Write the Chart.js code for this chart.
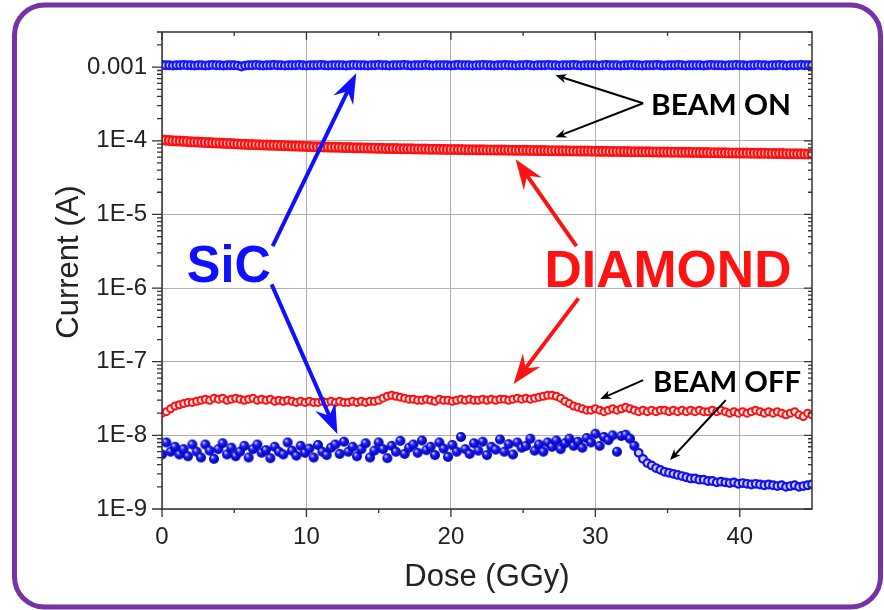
<!DOCTYPE html>
<html>
<head>
<meta charset="utf-8">
<script src="https://cdn.jsdelivr.net/npm/chart.js@4.4.1/dist/chart.umd.min.js"></script>
<style>
  html, body { margin: 0; padding: 0; background: #fff; }
  #wrap { width: 884px; height: 610px; }
</style>
</head>
<body>
<div id="wrap"><canvas id="doseChart" width="884" height="610"></canvas></div>
<script>
// sampling step of each run (GGy)
const ON_STEP = 0.25;
const OFF_STEP = 0.3;

// SiC, beam on (mA), 0 .. 45 GGy
const sicOnMilliAmp = [
  1.07,1.06,1.06,1.05,1.06,1.06,1.07,1.06,1.06,1.05,
  1.06,1.06,1.05,1.06,1.07,1.06,1.06,1.05,1.06,1.06,
  1.06,1.05,1.02,1.05,1.06,1.06,1.07,1.06,1.05,1.06,
  1.06,1.07,1.06,1.06,1.05,1.06,1.06,1.06,1.07,1.06,
  1.05,1.06,1.06,1.06,1.07,1.06,1.05,1.06,1.06,1.06,
  1.06,1.05,1.06,1.07,1.06,1.06,1.06,1.05,1.06,1.06,
  1.07,1.06,1.06,1.05,1.06,1.06,1.06,1.07,1.06,1.05,
  1.06,1.06,1.06,1.07,1.06,1.05,1.06,1.06,1.06,1.06,
  1.05,1.06,1.07,1.06,1.06,1.06,1.05,1.06,1.06,1.07,
  1.06,1.06,1.05,1.06,1.06,1.07,1.06,1.06,1.05,1.06,
  1.06,1.07,1.06,1.05,1.06,1.06,1.06,1.07,1.06,1.06,
  1.05,1.06,1.06,1.06,1.07,1.06,1.05,1.06,1.06,1.06,
  1.06,1.05,1.06,1.07,1.06,1.06,1.06,1.05,1.06,1.06,
  1.07,1.06,1.06,1.05,1.06,1.06,1.06,1.07,1.06,1.05,
  1.06,1.06,1.06,1.07,1.06,1.05,1.06,1.06,1.06,1.06,
  1.05,1.06,1.07,1.06,1.06,1.06,1.05,1.06,1.06,1.07,
  1.06,1.06,1.05,1.06,1.06,1.07,1.06,1.06,1.05,1.06,
  1.06,1.07,1.06,1.05,1.06,1.06,1.06,1.07,1.06,1.06,
  1.06
];

// diamond, beam on (x1e-5 A), 0 .. 45 GGy
const diamondOnE5 = [
  10.3,10.2,10.1,10.0,9.95,9.9,9.85,9.8,
  9.7,9.65,9.6,9.55,9.5,9.45,9.4,9.35,
  9.3,9.25,9.2,9.15,9.1,9.05,9.0,8.95,
  8.9,8.87,8.84,8.8,8.77,8.74,8.7,8.67,
  8.64,8.6,8.57,8.54,8.5,8.47,8.44,8.41,
  8.38,8.35,8.32,8.3,8.27,8.25,8.22,8.2,
  8.18,8.15,8.13,8.1,8.08,8.06,8.04,8.02,
  8.0,7.98,7.96,7.94,7.92,7.9,7.88,7.86,
  7.85,7.83,7.82,7.8,7.79,7.77,7.76,7.74,
  7.73,7.72,7.7,7.69,7.68,7.66,7.65,7.64,
  7.63,7.62,7.6,7.59,7.58,7.57,7.56,7.55,
  7.54,7.53,7.52,7.51,7.5,7.49,7.48,7.47,
  7.46,7.45,7.44,7.43,7.42,7.41,7.4,7.39,
  7.38,7.37,7.36,7.35,7.34,7.33,7.32,7.31,
  7.3,7.29,7.28,7.27,7.26,7.25,7.24,7.23,
  7.22,7.21,7.2,7.19,7.18,7.17,7.16,7.15,
  7.14,7.13,7.12,7.11,7.1,7.09,7.08,7.07,
  7.06,7.05,7.04,7.03,7.02,7.01,7.0,6.99,
  6.98,6.97,6.96,6.95,6.94,6.93,6.92,6.91,
  6.9,6.89,6.88,6.87,6.86,6.85,6.84,6.83,
  6.82,6.81,6.8,6.79,6.78,6.77,6.76,6.75,
  6.74,6.73,6.72,6.71,6.7,6.69,6.68,6.67,
  6.66,6.65,6.64,6.63,6.62
];

// diamond, beam off (x1e-8 A), 0 .. 45 GGy
const diamondOffE8 = [
  2.0,2.1,2.3,2.5,2.6,2.7,2.8,2.8,2.9,3.0,
  3.1,3.0,3.2,3.1,3.2,3.0,3.1,3.2,3.1,3.0,
  3.1,3.2,3.0,3.1,3.0,3.1,2.9,3.0,2.9,3.0,
  2.9,2.8,2.9,2.8,2.9,2.8,2.8,2.9,2.8,2.9,
  2.8,2.9,2.8,2.8,2.9,2.8,2.9,2.8,2.9,2.9,
  3.0,3.2,3.4,3.5,3.4,3.3,3.2,3.1,3.1,3.0,
  3.0,3.1,3.0,2.9,3.1,3.0,3.0,2.9,3.0,3.1,
  3.0,3.1,3.0,3.0,3.1,3.0,3.1,3.0,3.1,3.1,
  3.0,3.1,3.2,3.1,3.2,3.1,3.2,3.3,3.4,3.5,
  3.5,3.4,3.2,2.9,2.7,2.5,2.4,2.3,2.2,2.2,
  2.3,2.2,2.1,2.2,2.3,2.2,2.3,2.4,2.3,2.2,
  2.1,2.2,2.1,2.2,2.1,2.2,2.2,2.1,2.2,2.1,
  2.2,2.1,2.2,2.1,2.2,2.1,2.1,2.2,2.1,2.2,
  2.1,2.0,2.1,2.0,2.1,2.0,2.1,2.2,2.1,2.0,
  2.1,2.0,2.1,2.0,1.9,2.0,2.1,1.9,1.8,2.0,
  1.9
];

// SiC, beam off (x1e-9 A), 0 .. 45 GGy
const sicOffE9 = [
  5.5,8.0,6.0,7.0,5.5,6.5,5.2,7.5,6.0,5.0,
  7.5,6.2,4.8,6.5,7.8,5.5,6.8,5.2,6.0,7.2,
  5.0,6.5,7.5,5.8,6.3,4.9,7.0,6.0,5.5,8.0,
  6.2,5.3,7.2,5.8,6.6,5.0,7.4,6.0,5.4,6.8,
  7.5,5.6,8.2,6.0,7.0,5.2,6.5,7.8,5.0,6.2,
  8.0,6.5,4.9,7.2,6.0,8.4,5.6,6.8,7.5,5.8,
  8.5,6.3,7.0,5.4,8.0,6.6,5.1,7.4,6.0,9.5,
  6.5,5.6,7.8,6.2,8.2,5.4,7.0,6.4,8.8,6.0,
  7.6,5.5,8.0,6.8,7.2,9.0,6.2,7.5,6.0,8.0,
  7.0,8.5,6.5,7.8,9.0,7.2,8.2,6.8,9.2,8.0,
  10.5,7.2,9.5,8.6,10.0,6.0,9.8,10.2,9.0,7.2,
  5.8,4.8,4.2,3.9,3.6,3.4,3.2,3.1,3.0,2.9,
  2.8,2.7,2.6,2.6,2.5,2.5,2.4,2.4,2.3,2.35,
  2.3,2.25,2.3,2.2,2.25,2.2,2.15,2.2,2.15,2.1,
  2.15,2.1,2.05,2.1,2.0,2.05,2.1,2.0,2.05,2.1,
  2.15
];

// axes
const xMajorTicks = [0, 10, 20, 30, 40];
const xMinorTicks = [5, 15, 25, 35];
const yDecades = [-9, -8, -7, -6, -5, -4, -3];
const yDecadeLabels = ["1E-9", "1E-8", "1E-7", "1E-6", "1E-5", "1E-4", "0.001"];

const toPoints = (arr, step, unit) => arr.map((v, i) => ({ x: i * step, y: v * unit }));

const isDecade = (v) => {
  const e = Math.log10(v);
  return Math.abs(e - Math.round(e)) < 1e-6;
};

// shaded ball marker used for the SiC beam-off scatter
function makeBall(r) {
  const c = document.createElement("canvas");
  const s = Math.ceil(r * 2 + 2);
  c.width = c.height = s;
  const g = c.getContext("2d");
  const m = s / 2;
  const grad = g.createRadialGradient(m - r * 0.35, m - r * 0.4, r * 0.1, m, m, r);
  grad.addColorStop(0, "#c8c8ff");
  grad.addColorStop(0.35, "#1c1cff");
  grad.addColorStop(1, "#0000a8");
  g.fillStyle = grad;
  g.beginPath();
  g.arc(m, m, r, 0, Math.PI * 2);
  g.fill();
  return c;
}
const ball = makeBall(5);

// arrows and labels, placed in data units: [dose, log10(current)]
const bigArrows = [
  { from: [7.66, -5.43], to: [13.45, -3.084], color: "#1010ff" },
  { from: [7.59, -5.95], to: [12.14, -7.982], color: "#1010ff" },
  { from: [28.69, -5.43], to: [24.48, -4.251], color: "#ff1212" },
  { from: [28.83, -6.14], to: [24.34, -7.304], color: "#ff1212" },
];
const thinArrows = [
  { from: [33.31, -3.491], to: [27.24, -3.111] },
  { from: [33.31, -3.491], to: [27.24, -3.953] },
  { from: [33.31, -7.25], to: [30.34, -7.507] },
  { from: [39.03, -7.521], to: [35.17, -8.335] },
];
const labels = [
  { text: "SiC", at: [1.72, -5.92], font: "bold 52px 'Liberation Sans', Arial", color: "#1010ff", width: 84 },
  { text: "DIAMOND", at: [26.48, -5.988], font: "bold 52px 'Liberation Sans', Arial", color: "#ff1212", width: 247 },
  { text: "BEAM ON", at: [33.86, -3.654], font: "bold 28px Lato", color: "#000", width: 140 },
  { text: "BEAM OFF", at: [34.0, -7.412], font: "bold 28px Lato", color: "#000", width: 148 },
];

function drawBigArrow(ctx, x1, y1, x2, y2, color) {
  const a = Math.atan2(y2 - y1, x2 - x1);
  const c = Math.cos(a), s = Math.sin(a);
  const headLen = 30, headHalf = 11, notch = 20;
  ctx.strokeStyle = color;
  ctx.fillStyle = color;
  ctx.lineWidth = 4;
  ctx.beginPath();
  ctx.moveTo(x1, y1);
  ctx.lineTo(x2 - notch * c, y2 - notch * s);
  ctx.stroke();
  const bx = x2 - headLen * c, by = y2 - headLen * s;
  ctx.beginPath();
  ctx.moveTo(x2, y2);
  ctx.lineTo(bx - headHalf * s, by + headHalf * c);
  ctx.lineTo(x2 - notch * c, y2 - notch * s);
  ctx.lineTo(bx + headHalf * s, by - headHalf * c);
  ctx.closePath();
  ctx.fill();
}

function drawThinArrow(ctx, x1, y1, x2, y2) {
  const a = Math.atan2(y2 - y1, x2 - x1);
  const c = Math.cos(a), s = Math.sin(a);
  const headLen = 11, headHalf = 4.5;
  ctx.strokeStyle = "#000";
  ctx.fillStyle = "#000";
  ctx.lineWidth = 2;
  ctx.beginPath();
  ctx.moveTo(x1, y1);
  ctx.lineTo(x2 - headLen * 0.6 * c, y2 - headLen * 0.6 * s);
  ctx.stroke();
  const bx = x2 - headLen * c, by = y2 - headLen * s;
  ctx.beginPath();
  ctx.moveTo(x2, y2);
  ctx.lineTo(bx - headHalf * s, by + headHalf * c);
  ctx.lineTo(x2 - headLen * 0.7 * c, y2 - headLen * 0.7 * s);
  ctx.lineTo(bx + headHalf * s, by - headHalf * c);
  ctx.closePath();
  ctx.fill();
}

// text squeezed or stretched to a given width
function drawFitText(ctx, text, x, y, font, color, width) {
  ctx.save();
  ctx.font = font;
  ctx.fillStyle = color;
  ctx.textBaseline = "alphabetic";
  ctx.textAlign = "left";
  const w = ctx.measureText(text).width;
  ctx.translate(x, y);
  ctx.scale(width / w, 1);
  ctx.fillText(text, 0, 0);
  ctx.restore();
}

const framePlugin = {
  id: "frame",
  afterDatasetsDraw(chart) {
    const { ctx, chartArea: a, scales } = chart;
    const xs = scales.x, ys = scales.y;
    ctx.save();
    ctx.strokeStyle = "#333";
    ctx.lineWidth = 1.5;
    ctx.strokeRect(a.left, a.top, a.right - a.left, a.bottom - a.top);

    ctx.lineWidth = 1.3;
    ctx.beginPath();
    // bottom ticks point out, top ticks point in
    xMajorTicks.forEach((d) => {
      const px = xs.getPixelForValue(d);
      ctx.moveTo(px, a.bottom); ctx.lineTo(px, a.bottom + 8);
      ctx.moveTo(px, a.top); ctx.lineTo(px, a.top + 8);
    });
    xMinorTicks.forEach((d) => {
      const px = xs.getPixelForValue(d);
      ctx.moveTo(px, a.bottom); ctx.lineTo(px, a.bottom + 4);
      ctx.moveTo(px, a.top); ctx.lineTo(px, a.top + 4);
    });
    // left ticks point out, right ticks point in
    yDecades.forEach((e) => {
      for (let k = 1; k <= 9; k++) {
        const v = k * Math.pow(10, e);
        if (v > ys.max * 1.0001 || v < ys.min * 0.9999) continue;
        const py = ys.getPixelForValue(v);
        const len = k === 1 ? 10 : 5;
        ctx.moveTo(a.left - len, py); ctx.lineTo(a.left, py);
        ctx.moveTo(a.right, py); ctx.lineTo(a.right - (k === 1 ? 8 : 4), py);
      }
    });
    ctx.stroke();
    ctx.restore();
  },
  afterDraw(chart) {
    const { ctx, scales } = chart;
    const px = (p) => scales.x.getPixelForValue(p[0]);
    const py = (p) => scales.y.getPixelForValue(Math.pow(10, p[1]));
    ctx.save();
    ctx.lineCap = "butt";
    bigArrows.forEach((ar) => drawBigArrow(ctx, px(ar.from), py(ar.from), px(ar.to), py(ar.to), ar.color));
    thinArrows.forEach((ar) => drawThinArrow(ctx, px(ar.from), py(ar.from), px(ar.to), py(ar.to)));
    labels.forEach((l) => drawFitText(ctx, l.text, px(l.at), py(l.at), l.font, l.color, l.width));

    // axis titles
    ctx.fillStyle = "#222";
    ctx.font = "31px 'Liberation Sans', Arial";
    ctx.textAlign = "center";
    ctx.textBaseline = "middle";
    ctx.fillText("Dose (GGy)", 487, 577);
    ctx.translate(69, 262);
    ctx.rotate(-Math.PI / 2);
    ctx.fillText("Current (A)", 0, 0);
    ctx.restore();

    // purple rounded border
    ctx.save();
    ctx.strokeStyle = "#7533a3";
    ctx.lineWidth = 5;
    ctx.beginPath();
    ctx.roundRect(14.5, 5, 866, 602, 30);
    ctx.stroke();
    ctx.restore();
  },
};

new Chart(document.getElementById("doseChart"), {
  type: "scatter",
  data: {
    datasets: [
      {
        label: "SiC beam off",
        data: toPoints(sicOffE9, OFF_STEP, 1e-9),
        pointStyle: (c) => (c.raw && c.raw.x < 32.8 ? ball : "circle"),
        pointRadius: 3.8,
        borderColor: "#1010f0",
        backgroundColor: "#d0d0ff",
        borderWidth: 2.2,
      },
      {
        label: "Diamond beam off",
        data: toPoints(diamondOffE8, OFF_STEP, 1e-8),
        pointRadius: 3.5,
        borderColor: "#ff1010",
        backgroundColor: "#ffe8e8",
        borderWidth: 2,
      },
      {
        label: "Diamond beam on",
        data: toPoints(diamondOnE5, ON_STEP, 1e-5),
        pointRadius: 4.3,
        borderColor: "#ff1010",
        backgroundColor: "#ffc8c8",
        borderWidth: 2.4,
      },
      {
        label: "SiC beam on",
        data: toPoints(sicOnMilliAmp, ON_STEP, 1e-3),
        pointRadius: 3.8,
        borderColor: "#1515ff",
        backgroundColor: "#c8c8ff",
        borderWidth: 2.2,
      },
    ],
  },
  options: {
    responsive: false,
    animation: false,
    events: [],
    layout: { padding: { left: 0, top: 32, right: 72, bottom: 0 } },
    plugins: { legend: { display: false }, tooltip: { enabled: false } },
    scales: {
      x: {
        type: "linear",
        min: 0,
        max: 45,
        afterFit: (s) => { s.height = 101; },
        border: { display: false },
        grid: { color: "#b0b0b0", lineWidth: 1, drawTicks: false },
        ticks: {
          stepSize: 10,
          includeBounds: false,
          padding: 14,
          color: "#222",
          font: { family: "'Liberation Sans', Arial", size: 24 },
          maxRotation: 0,
        },
      },
      y: {
        type: "logarithmic",
        min: 1e-9,
        max: 3e-3,
        afterFit: (s) => { s.width = 162; },
        border: { display: false },
        grid: {
          drawTicks: false,
          lineWidth: 1,
          color: (c) => (c.tick && isDecade(c.tick.value) ? "#b0b0b0" : "rgba(0,0,0,0)"),
        },
        ticks: {
          autoSkip: false,
          padding: 15,
          color: "#222",
          font: { family: "'Liberation Sans', Arial", size: 24 },
          callback: (v) => {
            if (!isDecade(v)) return "";
            const i = yDecades.indexOf(Math.round(Math.log10(v)));
            return i >= 0 ? yDecadeLabels[i] : "";
          },
        },
      },
    },
  },
  plugins: [framePlugin],
});
</script>
</body>
</html>
